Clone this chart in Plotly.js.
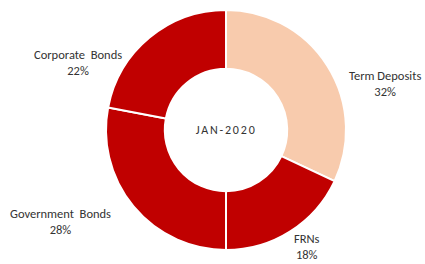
<!DOCTYPE html>
<html>
<head>
<meta charset="utf-8">
<script src="https://cdn.plot.ly/plotly-3.0.1.min.js"></script>
<style>
html,body{margin:0;padding:0;background:#fff;}
#chart{width:425px;height:264px;}
.center-label .annotation-text{letter-spacing:1.8px;}
</style>
</head>
<body>
<div id="chart"></div>
<script>
const categories = ["Term Deposits", "FRNs", "Government  Bonds", "Corporate  Bonds"];
const shares = [32, 18, 28, 22];
const sliceColors = ["#F8CBAD", "#C00000", "#C00000", "#C00000"];
const centerTitle = "JAN-2020";

const W = 425, H = 264;
const cx = 226, cy = 130, R = 120;

// label positions (pixels) for each category
const labelPos = [[385, 84], [307, 246], [60, 221], [78, 62]];
const FONT = "Carlito, Lato, 'Open Sans', sans-serif";

const annotations = categories.map((c, i) => ({
  x: labelPos[i][0] / W,
  y: 1 - labelPos[i][1] / H,
  xref: "paper", yref: "paper",
  xanchor: "center", yanchor: "middle",
  showarrow: false,
  borderpad: 0,
  text: c + "<br>" + shares[i] + "%",
  font: {family: FONT, size: 12.5, color: "#333333"},
  align: "center"
}));
annotations.push({
  x: cx / W, y: 1 - cy / H, xref: "paper", yref: "paper",
  showarrow: false, text: centerTitle,
  font: {family: FONT, size: 12, color: "#333333"},
  xanchor: "center", yanchor: "middle"
});

const data = [{
  type: "pie",
  labels: categories,
  values: shares,
  hole: 0.51,
  sort: false,
  direction: "clockwise",
  rotation: 0,
  textinfo: "none",
  hoverinfo: "label+percent",
  marker: {colors: sliceColors, line: {color: "#ffffff", width: 2}},
  domain: {x: [(cx - R) / W, (cx + R) / W], y: [1 - (cy + R) / H, 1 - (cy - R) / H]}
}];

const layout = {
  width: W, height: H,
  margin: {l: 0, r: 0, t: 0, b: 0},
  showlegend: false,
  paper_bgcolor: "#ffffff",
  annotations: annotations
};

Plotly.newPlot("chart", data, layout, {displayModeBar: false, staticPlot: true}).then(() => {
  const anns = document.querySelectorAll(".annotation");
  const last = anns[anns.length - 1];
  if (last) last.classList.add("center-label");
});
</script>
</body>
</html>
